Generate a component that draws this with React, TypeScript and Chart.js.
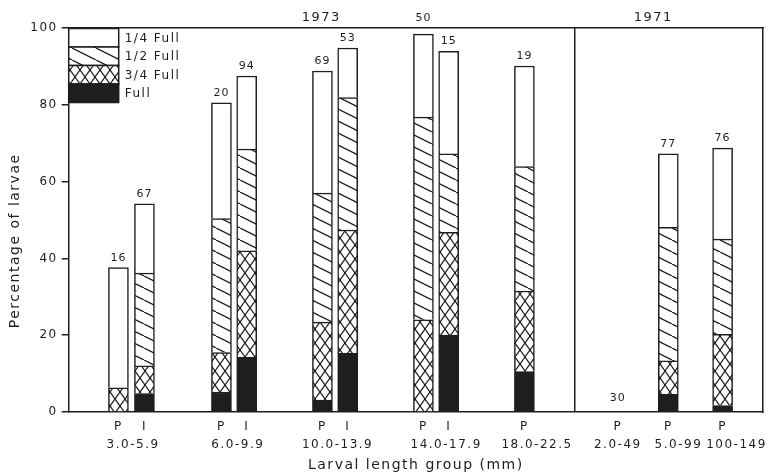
import React, { useEffect, useRef } from 'react';
import { Chart, registerables } from 'chart.js';

Chart.register(...registerables);

const INK = '#1e1e1e';
const FONT_FAMILY = 'DejaVu Sans';

// ---------- data ----------
const barTypes = ['P', 'I', 'P', 'I', 'P', 'I', 'P', 'I', 'P', 'P', 'P', 'P'];
const rangeLabels = ['3.0-5.9', '6.0-9.9', '10.0-13.9', '14.0-17.9', '18.0-22.5', '2.0-49', '5.0-99', '100-149'];
const yearLabels = ['1973', '1971'];
const sampleSizes = [16, 67, 20, 94, 69, 53, 50, 15, 19, 30, 77, 76];
const fullValues = [null, 4.8, 5.2, 14.3, 3.1, 15.3, null, 20.0, 10.5, null, 4.6, 1.7];
const threeQuarterValues = [6.3, 7.2, 10.3, 27.7, 20.3, 32.1, 24.0, 26.8, 21.0, null, 8.7, 18.5];
const halfValues = [null, 24.2, 34.9, 26.5, 33.6, 34.5, 52.8, 20.4, 32.4, null, 34.8, 24.8];
const quarterValues = [31.3, 18.0, 30.1, 19.0, 31.8, 12.9, 21.6, 26.7, 26.2, null, 19.1, 23.7];
const seriesLabels = ['Full', '3/4 Full', '1/2 Full', '1/4 Full'];

// ---------- layout (slot units along the x axis) ----------
const barSlots = [1.92, 2.95, 6, 7, 10, 11, 14, 15, 18, 21.7, 23.7, 25.85];
const rangeLabelSlots = [2.5, 6.65, 10.6, 14.9, 18.5, 21.7, 24.1, 26.4];
const yearLabelSlots = [9.95, 23.1];
const dividerSlot = 20;
const slotMin = -0.05;
const slotMax = 27.45;

const xTickSlots = [...barSlots, dividerSlot].sort((a, b) => a - b);
const xTickLabels = xTickSlots.map((s) => {
  const i = barSlots.indexOf(s);
  return i >= 0 ? barTypes[i] : '';
});

function makePattern(kind: 'diag' | 'cross') {
  const c = document.createElement('canvas');
  const w = kind === 'diag' ? 24 : 10;
  const h = kind === 'diag' ? 12 : 14;
  c.width = w;
  c.height = h;
  const g = c.getContext('2d')!;
  g.fillStyle = '#ffffff';
  g.fillRect(0, 0, w, h);
  g.strokeStyle = INK;
  g.lineWidth = 1.3;
  for (const dx of [-w, 0, w]) {
    g.beginPath();
    g.moveTo(dx, 0);
    g.lineTo(dx + w, h);
    g.stroke();
    if (kind === 'cross') {
      g.beginPath();
      g.moveTo(dx, h);
      g.lineTo(dx + w, 0);
      g.stroke();
    }
  }
  return g.createPattern(c, 'repeat');
}

const spacingPlugin = {
  id: 'letterSpacing',
  beforeLayout(chart: any) {
    chart.ctx.letterSpacing = '1.5px';
  },
  beforeDraw(chart: any) {
    chart.ctx.letterSpacing = '1.5px';
  },
};

// stacked legend box drawn in the top-left corner of the plot
const stackLegendPlugin = {
  id: 'stackLegend',
  afterDraw(chart: any) {
    const { ctx, chartArea } = chart;
    const items = chart.data.datasets.slice().reverse();
    const rowH = 18.5;
    const boxW = 50;
    ctx.save();
    ctx.letterSpacing = '1.5px';
    ctx.font = `12px "${FONT_FAMILY}"`;
    ctx.textAlign = 'left';
    ctx.textBaseline = 'middle';
    let y = chartArea.top + 0.5;
    items.forEach((d: any) => {
      ctx.fillStyle = d.backgroundColor;
      ctx.fillRect(chartArea.left, y, boxW, rowH);
      ctx.strokeStyle = INK;
      ctx.lineWidth = 1.5;
      ctx.strokeRect(chartArea.left, y, boxW, rowH);
      ctx.fillStyle = INK;
      ctx.fillText(d.label, chartArea.left + boxW + 6, y + rowH / 2 + 1);
      y += rowH;
    });
    ctx.restore();
  },
};

const countLabelPlugin = {
  id: 'countLabels',
  afterDraw(chart: any) {
    const ctx = chart.ctx;
    const xScale = chart.scales.x;
    const yScale = chart.scales.y;
    const area = chart.chartArea;
    ctx.save();
    ctx.font = `11px "${FONT_FAMILY}"`;
    ctx.letterSpacing = '1px';
    ctx.fillStyle = INK;
    ctx.textAlign = 'center';
    ctx.textBaseline = 'alphabetic';
    sampleSizes.forEach((n, i) => {
      let top = yScale.getPixelForValue(0);
      let hasBar = false;
      chart.data.datasets.forEach((ds: any, di: number) => {
        const v = ds.data[i].y;
        const el = chart.getDatasetMeta(di).data[i];
        if (v != null && el) {
          top = Math.min(top, el.y);
          hasBar = true;
        }
      });
      let y = top - (hasBar ? 7 : 11);
      if (y > area.top - 3 && y - 9 < area.top + 2) y = area.top - 7;
      ctx.fillText(String(n), xScale.getPixelForValue(barSlots[i]), y);
    });
    ctx.restore();
  },
};

const fixedTicks = (slots: number[]) => (axis: any) => {
  axis.ticks = slots.map((v) => ({ value: v }));
};

export default function App() {
  const ref = useRef<HTMLCanvasElement>(null);

  useEffect(() => {
    Chart.defaults.font.family = FONT_FAMILY;
    const fills = [INK, makePattern('cross'), makePattern('diag'), '#ffffff'];
    const valueSets = [fullValues, threeQuarterValues, halfValues, quarterValues];
    const datasets = seriesLabels.map((label, k) => ({
      label,
      data: barSlots.map((x, i) => ({ x, y: valueSets[k][i] })),
      backgroundColor: fills[k],
      borderColor: INK,
      borderWidth: 1.5,
      barThickness: 20,
    }));

    const chart = new Chart(ref.current!, {
      type: 'bar',
      data: { datasets } as any,
      plugins: [spacingPlugin, stackLegendPlugin, countLabelPlugin],
      options: {
        animation: false,
        responsive: false,
        devicePixelRatio: 1,
        layout: { padding: { top: 6.4, right: 7, bottom: 0.6, left: 3 } },
        plugins: {
          tooltip: { enabled: false },
          legend: { display: false },
        },
        scales: {
          x: {
            type: 'linear',
            position: 'bottom',
            min: slotMin,
            max: slotMax,
            offset: false,
            stacked: true,
            weight: 0,
            afterBuildTicks: fixedTicks(xTickSlots),
            ticks: {
              autoSkip: false,
              maxRotation: 0,
              minRotation: 0,
              padding: 0,
              color: INK,
              font: { size: 12 },
              callback: (_v: any, i: number) => xTickLabels[i],
            },
            grid: {
              offset: false,
              drawTicks: true,
              tickLength: 8,
              tickColor: 'rgba(0,0,0,0)',
              lineWidth: 1.5,
              color: (c: any) => (c.tick && c.tick.value === dividerSlot ? INK : 'rgba(0,0,0,0)'),
            },
            border: { display: true, color: INK, width: 1.5 },
          },
          x2: {
            type: 'linear',
            position: 'bottom',
            min: slotMin,
            max: slotMax,
            offset: false,
            weight: 1,
            afterBuildTicks: fixedTicks(rangeLabelSlots),
            ticks: {
              autoSkip: false,
              maxRotation: 0,
              minRotation: 0,
              padding: 0,
              color: INK,
              font: { size: 12 },
              callback: (_v: any, i: number) => rangeLabels[i],
            },
            grid: {
              display: true,
              offset: false,
              drawOnChartArea: false,
              drawTicks: true,
              tickLength: 3,
              color: 'rgba(0,0,0,0)',
              tickColor: 'rgba(0,0,0,0)',
            },
            border: { display: false },
            title: {
              display: true,
              text: 'Larval length group (mm)',
              color: INK,
              font: { size: 14 },
              padding: { top: 4.8, bottom: 0 },
            },
          },
          xTop: {
            type: 'linear',
            position: 'top',
            min: slotMin,
            max: slotMax,
            offset: false,
            afterBuildTicks: fixedTicks(yearLabelSlots),
            ticks: {
              autoSkip: false,
              maxRotation: 0,
              minRotation: 0,
              padding: 3,
              color: INK,
              font: { size: 13 },
              callback: (_v: any, i: number) => yearLabels[i],
            },
            grid: { display: false, offset: false, drawTicks: false },
            border: { display: true, color: INK, width: 1.5 },
          },
          y: {
            type: 'linear',
            position: 'left',
            stacked: true,
            min: 0,
            max: 100,
            ticks: { stepSize: 20, padding: 4, color: INK, font: { size: 12 } },
            grid: { drawOnChartArea: false, drawTicks: true, tickLength: 7, color: INK, lineWidth: 1.5 },
            border: { display: true, color: INK, width: 1.5 },
            title: {
              display: true,
              text: 'Percentage of larvae       ',
              color: INK,
              font: { size: 14 },
              padding: { top: 4, bottom: 2.5 },
            },
          },
          yR: {
            type: 'linear',
            position: 'right',
            min: 0,
            max: 100,
            ticks: { display: false },
            grid: { display: false, drawTicks: false, tickLength: 0 },
            border: { display: true, color: INK, width: 1.5 },
          },
        },
      } as any,
    });
    return () => chart.destroy();
  }, []);

  return (
    <div style={{ position: 'fixed', left: 0, top: 0, width: 770, height: 474, background: '#ffffff' }}>
      <canvas ref={ref} width={770} height={474} />
    </div>
  );
}
